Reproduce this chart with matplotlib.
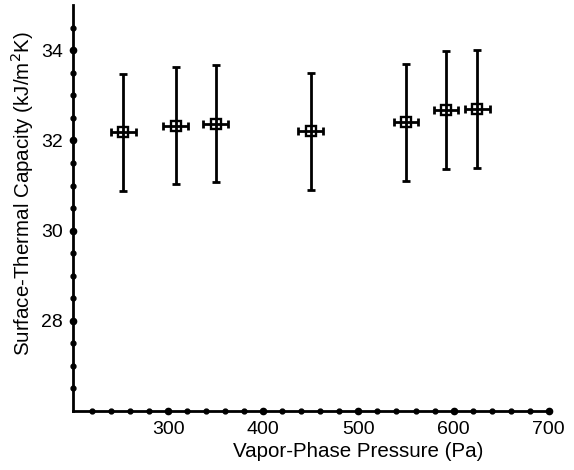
import numpy as np
import matplotlib
matplotlib.use("Agg")
import matplotlib.pyplot as plt

plt.rcParams['font.family'] = ['Liberation Sans', 'DejaVu Sans']

# data
pressure = [253, 308, 350, 450, 550, 592, 625]
capacity = [32.18, 32.33, 32.37, 32.20, 32.40, 32.67, 32.69]
cap_err = [1.30, 1.30, 1.30, 1.30, 1.30, 1.31, 1.31]
press_err = [13, 13, 13, 13, 13, 13, 13]

x_ticks = [300, 400, 500, 600, 700]
y_ticks = [28, 30, 32, 34]

fig = plt.figure(figsize=(5.74, 4.70), dpi=100)
ax = fig.add_axes([0.127, 0.1255, 0.829, 0.8635])

# open squares under the error bars so the bars show through
ax.plot(pressure, capacity, 's', mfc='none', mec='black', ms=7.5, mew=1.7, zorder=2)
ax.errorbar(pressure, capacity, yerr=cap_err, xerr=press_err, fmt='none',
            ecolor='black', elinewidth=2, capsize=3, capthick=2, zorder=3)

ax.set_xlim(200, 700)
ax.set_ylim(26, 35)

ax.spines['top'].set_visible(False)
ax.spines['right'].set_visible(False)
for s in ['left', 'bottom']:
    ax.spines[s].set_linewidth(2)

ax.set_xticks(x_ticks)
ax.set_yticks(y_ticks)
ax.tick_params(length=0, labelsize=14, pad=7)

# dotted tick marks along the axes
xminor = np.arange(220, 701, 20)
yminor = np.arange(26.5, 34.6, 0.5)
ax.plot(xminor, np.full(len(xminor), 26), 'o', color='black', ms=3.5, clip_on=False)
ax.plot(x_ticks, np.full(len(x_ticks), 26), 'o', color='black', ms=4.5, clip_on=False)
ax.plot(np.full(len(yminor), 200), yminor, 'o', color='black', ms=3.5, clip_on=False)
ax.plot(np.full(len(y_ticks), 200), y_ticks, 'o', color='black', ms=4.5, clip_on=False)

ax.set_xlabel('Vapor-Phase Pressure (Pa)', fontsize=14.8)
ax.set_ylabel('Surface-Thermal Capacity (kJ/m$^2$K)', fontsize=14.8)
ax.xaxis.set_label_coords(0.60, -0.077)
ax.yaxis.set_label_coords(-0.078, 0.537)

fig.savefig('out.png', dpi=100)
